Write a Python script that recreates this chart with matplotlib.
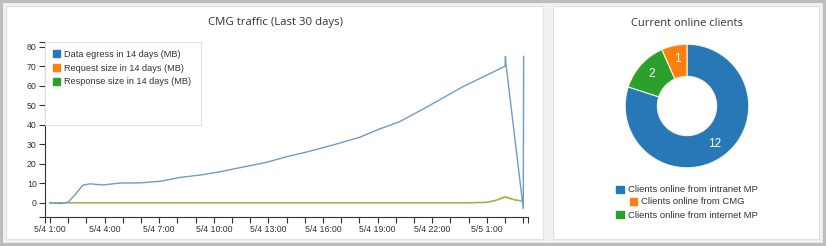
import matplotlib
matplotlib.use("Agg")
import matplotlib.pyplot as plt
from matplotlib.patches import Rectangle, Patch
import numpy as np

# ---------------- data ----------------
# hours since 5/4 0:00
egress_hours = [1.0, 1.55, 2.0, 2.37, 2.8, 3.2, 3.9, 4.85, 5.95, 7.05, 8.15, 9.25,
                10.35, 11.45, 12.9, 14.0, 15.1, 16.55, 18.0, 19.1, 20.2, 21.88,
                23.69, 24.9, 26.0, 26.02, 26.05, 27.0, 27.02]
egress_mb = [0, -0.4, 0.3, 4, 9, 9.7, 9.1, 10.1, 10.2, 11, 13, 14.2,
             15.9, 18, 20.7, 23.6, 26, 29.6, 33.5, 37.8, 41.5, 50,
             59.5, 65, 70, 75, 71, -3, 75]

small_hours = [1.0, 5.0, 10.0, 15.0, 20.0, 24.0, 25.0, 25.5, 26.0, 26.5, 27.0]
request_mb = [0, 0, 0, 0, 0, 0, 0.2, 1.3, 3.3, 1.6, 0.8]
response_mb = [0, 0, 0, 0, 0, 0, 0.2, 1.2, 2.8, 1.5, 0.8]

series_names = ["Data egress in 14 days (MB)", "Request size in 14 days (MB)",
                "Response size in 14 days (MB)"]

xtick_hours = [1, 4, 7, 10, 13, 16, 19, 22, 25]
xtick_labels = ["5/4 1:00", "5/4 4:00", "5/4 7:00", "5/4 10:00", "5/4 13:00",
                "5/4 16:00", "5/4 19:00", "5/4 22:00", "5/5 1:00"]
ytick_values = [0, 10, 20, 30, 40, 50, 60, 70, 80]

client_labels = ["Clients online from intranet MP", "Clients online from CMG",
                 "Clients online from internet MP"]
client_counts = [12, 1, 2]

# ---------------- style ----------------
BLUE = "#2878b8"
ORANGE = "#ff7f0e"
GREEN = "#2ca02c"
TXT = "#333333"
FONT = ["Liberation Sans", "DejaVu Sans"]

W, H = 826, 246
fig = plt.figure(figsize=(W / 100, H / 100), dpi=100)
fig.patch.set_facecolor("#f1f1f1")


def px_rect(x0, y0, x1, y1, **kw):
    r = Rectangle((x0 / W, 1 - y1 / H), (x1 - x0) / W, (y1 - y0) / H,
                  transform=fig.transFigure, **kw)
    fig.add_artist(r)


# outer border
px_rect(1, 1, W - 1, H - 1, facecolor="none", edgecolor="#bdbdbd", linewidth=3, zorder=0)
# panels
px_rect(6, 6, 543, 239, facecolor="white", edgecolor="#e2e2e2", linewidth=0.8, zorder=0)
px_rect(553, 6, 819, 239, facecolor="white", edgecolor="#e2e2e2", linewidth=0.8, zorder=0)

fig.text(275 / W, 1 - 23 / H, "CMG traffic (Last 30 days)", ha="center", va="center",
         fontsize=8.2, color=TXT, family=["Open Sans", "DejaVu Sans"])
fig.text(687 / W, 1 - 23 / H, "Current online clients", ha="center", va="center",
         fontsize=8, color=TXT, family=["Open Sans", "DejaVu Sans"])

# ---------------- line chart ----------------
ax_l, ax_r, ax_t, ax_b = 45, 528, 42, 217
ax = fig.add_axes([ax_l / W, 1 - ax_b / H, (ax_r - ax_l) / W, (ax_b - ax_t) / H])
ax.set_facecolor("none")
ax.plot(egress_hours, egress_mb, color="#6d9dc5", lw=1.0, zorder=3)
ax.plot(small_hours, request_mb, color=ORANGE, lw=1.0, alpha=0.7, zorder=2)
ax.plot(small_hours, response_mb, color="#7cbf4a", lw=1.0, alpha=0.85, zorder=2)

ax.set_xlim(0.73, 27.26)
ax.set_ylim(-7.3, 82.4)
for s in ["top", "right"]:
    ax.spines[s].set_visible(False)
for s in ["left", "bottom"]:
    ax.spines[s].set_color(TXT)
    ax.spines[s].set_linewidth(0.8)

ax.set_xticks(xtick_hours)
ax.set_xticklabels(xtick_labels)
ax.set_xticks(list(range(1, 28)) + [0.73, 27.26], minor=True)
ax.set_yticks(ytick_values)
ax.set_yticks([-7.3, 82.4], minor=True)
ax.tick_params(which="both", length=4, width=0.8, color=TXT, labelcolor=TXT,
               labelsize=6.3, pad=2)
for lab in ax.get_xticklabels() + ax.get_yticklabels():
    lab.set_family(FONT)

# legend box
ax.add_patch(Rectangle((0.0, 0.526), 0.323, 0.474, transform=ax.transAxes,
                       facecolor="white", edgecolor="#e0e0e0", lw=0.8, zorder=4))
handles = [Patch(facecolor=c, edgecolor=c) for c in (BLUE, ORANGE, GREEN)]
leg = ax.legend(handles, series_names, loc="upper left", bbox_to_anchor=(0.005, 0.985),
                frameon=False, handlelength=0.8, handleheight=0.8,
                handletextpad=0.4, labelspacing=0.5, borderaxespad=0.2,
                prop={"family": FONT, "size": 6.6})
leg.set_zorder(5)
for t in leg.get_texts():
    t.set_color(TXT)

# ---------------- donut ----------------
cx, cy, r = 687, 106, 63
axp = fig.add_axes([(cx - r) / W, 1 - (cy + r) / H, 2 * r / W, 2 * r / H])
total = sum(client_counts)
order = [0, 2, 1]  # sorted by value descending, clockwise from top
vals = [client_counts[i] for i in order]
cols = [[BLUE, ORANGE, GREEN][i] for i in order]
wedges, _, autotexts = axp.pie(vals, colors=cols, startangle=90, counterclock=False,
                               radius=1.0, wedgeprops=dict(width=0.52, edgecolor="#f5f5dc",
                                                           linewidth=0.8),
                               autopct=lambda p: f"{int(round(p * total / 100))}",
                               pctdistance=0.77,
                               textprops=dict(color="white", fontsize=8.5, family=FONT))
axp.set_xlim(-1.02, 1.02)
axp.set_ylim(-1.02, 1.02)
axp.set_aspect("equal")
axp.axis("off")

rows_y = [190, 202, 215]
for lab, col, y in zip(client_labels, (BLUE, ORANGE, GREEN), rows_y):
    lg = fig.legend([Patch(facecolor=col, edgecolor=col)], [lab], loc="center",
                    bbox_to_anchor=(cx / W, 1 - y / H), frameon=False,
                    handlelength=0.8, handleheight=0.8, handletextpad=0.4,
                    borderpad=0, prop={"family": FONT, "size": 6.8})
    for t in lg.get_texts():
        t.set_color(TXT)

fig.savefig("out.png", dpi=100, facecolor=fig.get_facecolor())
